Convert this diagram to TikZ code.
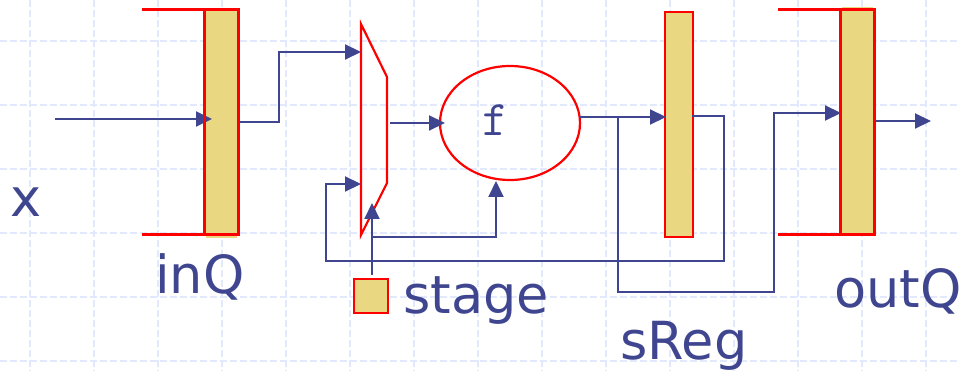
\documentclass[tikz,border=0pt]{standalone}
\usepackage{fontspec}
\setmainfont{DejaVu Sans}
\usetikzlibrary{arrows.meta, calc, positioning, shapes.geometric}
\definecolor{slideblue}{HTML}{3F468F}
\definecolor{regfill}{HTML}{EAD782}
\definecolor{gridblue}{HTML}{E3E9FC}
\tikzset{>={Triangle[length=16pt, width=15pt]}}
\tikzset{gridline/.style={draw=gridblue, line width=1.2pt, dash pattern=on 7pt off 3pt}}
\tikzset{flow/.style={draw=slideblue, line width=2.1pt, ->}}
\tikzset{redline/.style={draw=red, line width=3pt}}
\tikzset{queuefill/.style={fill=regfill, draw=none, inner sep=0pt, minimum width=31pt, minimum height=227pt}}
\tikzset{regbox/.style={fill=regfill, draw=red, line width=2.4pt, inner sep=0pt}}
\tikzset{biglabel/.style={text=slideblue, anchor=base west, inner sep=0pt, font=\fontsize{52.5}{60}\selectfont}}

\begin{document}
\begin{tikzpicture}[x=1pt, y=-1pt]
      \useasboundingbox (0, 0) rectangle (959, 371);
      % background grid
      \foreach \gx in {30, 94, 158, 222, 286, 350, 414, 478, 542, 606, 670, 734, 798, 862, 926} {
        \draw[gridline] (\gx, 0) -- (\gx, 371);
      }
      \foreach \gy in {41, 105, 169, 233, 297, 361} {
        \draw[gridline] (0, \gy) -- (959, \gy);
      }
      % fills of the queues and the register
      \node[queuefill] (inQbar) at (221.5, 124.5) {};
      \node[queuefill] (outQbar) at (857.5, 120.5) {};
      \node[regbox, minimum width=28pt, minimum height=225pt] (sRegbar) at (679, 124.5) {};
      \node[regbox, minimum width=34pt, minimum height=34pt] (stagebox) at (371, 296) {};
      % mux and f block
      \coordinate (muxa) at (361, 24);
      \coordinate (muxb) at (387, 77);
      \coordinate (muxc) at (387, 183);
      \coordinate (muxd) at (361, 235);
      \draw[draw=red, line width=2.2pt, line join=miter] (muxa) -- (muxb) -- (muxc) -- (muxd) -- cycle;
      \node[draw=red, line width=2.2pt, ellipse, inner sep=0pt, minimum width=140pt, minimum height=114pt] (fblock) at (510, 123) {};
      \node[text=slideblue, anchor=base, inner sep=0pt, font=\ttfamily\fontsize{50}{60}\selectfont] (flabel) at (495, 136) {f};
      % ends of the connectors
      \coordinate (xin) at (55, 119);
      \coordinate (xtip) at (212, 119);
      \coordinate (inQout) at (239, 122);
      \coordinate (muxtop) at (361, 52);
      \coordinate (muxlow) at (361, 184);
      \coordinate (muxout) at (390, 123);
      \coordinate (ftip) at (445, 123);
      \coordinate (fout) at (580, 117);
      \coordinate (sRegin) at (666, 117);
      \coordinate (fork) at (618, 117);
      \coordinate (outQin) at (841, 113);
      \coordinate (sRegout) at (692, 116);
      \coordinate (stagetop) at (372, 275);
      \coordinate (stagetip) at (372, 203);
      \coordinate (stagefork) at (372, 237);
      \coordinate (fbottom) at (496, 181);
      \coordinate (outQout) at (876, 121);
      \coordinate (outQend) at (931, 121);
      % connectors
      \draw[flow] (xin) -- (xtip);
      \draw[flow] (inQout) -- (279, 122) -- (279, 52) -- (muxtop);
      \draw[flow] (muxout) -- (ftip);
      \draw[flow] (fout) -- (sRegin);
      \draw[flow] (fork) -- (618, 292) -- (774, 292) -- (774, 113) -- (outQin);
      \draw[flow] (sRegout) -- (724, 116) -- (724, 261) -- (326, 261) -- (326, 184) -- (muxlow);
      \draw[flow] (stagetop) -- (stagetip);
      \draw[flow] (stagefork) -- (496, 237) -- (fbottom);
      \draw[flow] (outQout) -- (outQend);
      % red outlines of the queues
      \draw[redline, line join=miter] (142, 10) -- (238, 10) -- (238, 234.5) -- (142, 234.5);
      \draw[redline] (204.5, 10) -- (204.5, 234.5);
      \draw[redline, line join=miter] (778, 10) -- (874, 10) -- (874, 234.5) -- (778, 234.5);
      \draw[redline] (840, 10) -- (840, 234.5);
      % labels
      \node[biglabel] (xlabel) at (10, 217) {x};
      \node[biglabel] (inQlabel) at (155, 294) {inQ};
      \node[biglabel] (stagelabel) at (403, 314) {stage};
      \node[biglabel] (sReglabel) at (620, 360) {sReg};
      \node[biglabel] (outQlabel) at (834, 308) {outQ};
    \end{tikzpicture}
\end{document}
